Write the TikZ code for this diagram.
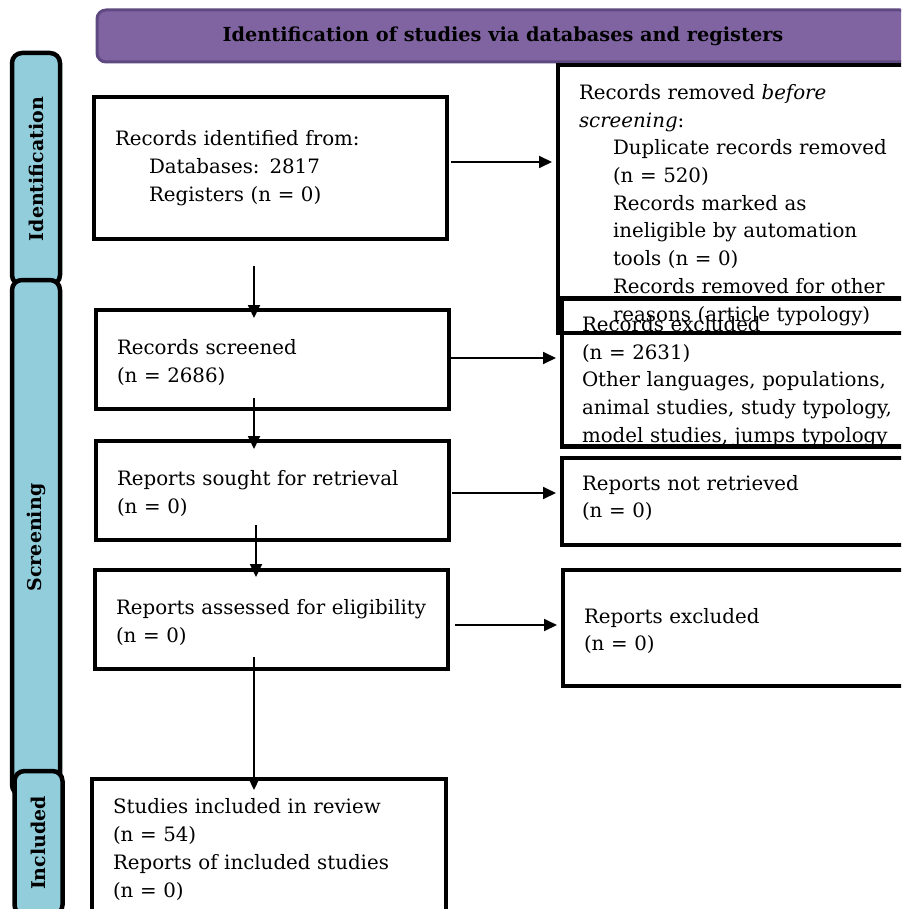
\documentclass[tikz,border=0pt]{standalone}
\usepackage{fontspec}
\setmainfont{DejaVu Serif}
\usepackage{xcolor}
\usetikzlibrary{arrows.meta}
\usetikzlibrary{positioning}
\usetikzlibrary{calc}
\definecolor{headpurple}{HTML}{8064A2}
\definecolor{headedge}{HTML}{5E4A80}
\definecolor{sideblue}{HTML}{92CDDC}

\begin{document}
\begin{tikzpicture}[x=1pt,y=-1pt,
	box/.style={draw, line width=4.5pt, rectangle, align=left, inner xsep=21pt, inner ysep=0pt, outer sep=0pt, font=\fontsize{19.8}{27.7}\selectfont},
	rbox/.style={box, anchor=west, text width=340pt},
	side/.style={draw, line width=4.5pt, fill=sideblue, rounded corners=10pt, rotate=90, minimum height=48pt, font=\fontsize{19}{20}\selectfont\bfseries},
	flow/.style={-{Triangle[length=13pt,width=12pt]}, line width=1.8pt, shorten >=6pt}]
	% frame
	\fill[white] (0,0) rectangle (901,909);
	\useasboundingbox (0,0) rectangle (901,909);
	\clip (0,0) rectangle (901,909);
	
	% header
	\node[draw=headedge, line width=3pt, fill=headpurple, rounded corners=9pt, minimum width=812pt, minimum height=52pt, font=\fontsize{19.3}{20}\selectfont\bfseries] (head) at (503,36) {\raisebox{-3pt}{Identification of studies via databases and registers}};
	
	% side bars
	\node[side, minimum width=232pt] (sideid) at (36,169) {Identification};
	\node[side, minimum width=515pt] (sidescr) at (36,537.5) {Screening};
	\node[side, minimum width=144pt] (sideinc) at (38.5,843) {Included};
	
	% left column
	\node[box, minimum width=353pt, minimum height=142pt, text width=311pt] (ident) at (270.5,168) {Records identified from:\\ \hspace*{34pt}Databases: 2817\\ \hspace*{34pt}Registers (n = 0)};
	\node[box, minimum width=353pt, minimum height=99pt, text width=311pt] (screen) at (272.5,359.5) {\rule{0pt}{21pt}Records screened\\(n = 2686)};
	\node[box, minimum width=353pt, minimum height=99pt, text width=311pt] (sought) at (272.5,490.5) {\rule{0pt}{21pt}Reports sought for retrieval\\(n = 0)};
	\node[box, minimum width=353pt, minimum height=99pt, text width=311pt] (assess) at (271.5,619.5) {\rule{0pt}{21pt}Reports assessed for eligibility\\(n = 0)};
	\node[box, minimum width=354pt, minimum height=136pt, text width=312pt] (incl) at (269,847) {\rule{0pt}{20pt}Studies included in review\\(n = 54)\\Reports of included studies\\(n = 0)};
	
	% right column
	\node[rbox, minimum height=268pt] (removed) at (558,199) {\rule{0pt}{27pt}Records removed \textit{before}\\ \textit{screening}:\\ \hspace*{34pt}Duplicate records removed\\ \hspace*{34pt}(n = 520)\\ \hspace*{34pt}Records marked as\\ \hspace*{34pt}ineligible by automation\\ \hspace*{34pt}tools (n = 0)\\ \hspace*{34pt}Records removed for other\\ \hspace*{34pt}reasons (article typology)};
	\node[rbox, inner xsep=20pt, minimum height=145pt] (excluded) at (562,372.5) {\rule{0pt}{33pt}Records excluded\\(n = 2631)\\Other languages, populations,\\animal studies, study typology,\\model studies, jumps typology};
	\node[rbox, inner xsep=20pt, minimum height=87pt] (notret) at (562,501.5) {Reports not retrieved\\(n = 0)\rule[-10pt]{0pt}{0pt}};
	\node[rbox, minimum height=116pt] (repexcl) at (563,628) {\rule{0pt}{21pt}Reports excluded\\(n = 0)};
	
	% arrows down
	\coordinate (v1) at (254,266);
	\coordinate (v2) at (254,398);
	\coordinate (v3) at (256,525);
	\coordinate (v4) at (254,657);
	\draw[flow, shorten >=-8pt] (v1) -- (v1 |- screen.north);
	\draw[flow, shorten >=-8pt] (v2) -- (v2 |- sought.north);
	\draw[flow, shorten >=-7pt] (v3) -- (v3 |- assess.north);
	\draw[flow, shorten >=-11pt] (v4) -- (v4 |- incl.north);
	
	% arrows right
	\coordinate (h1) at (451,162);
	\coordinate (h2) at (451,358);
	\coordinate (h3) at (452,493);
	\coordinate (h4) at (455,625);
	\draw[flow] (h1) -- (h1 -| removed.west);
	\draw[flow] (h2) -- (h2 -| excluded.west);
	\draw[flow] (h3) -- (h3 -| notret.west);
	\draw[flow] (h4) -- (h4 -| repexcl.west);
\end{tikzpicture}
\end{document}
